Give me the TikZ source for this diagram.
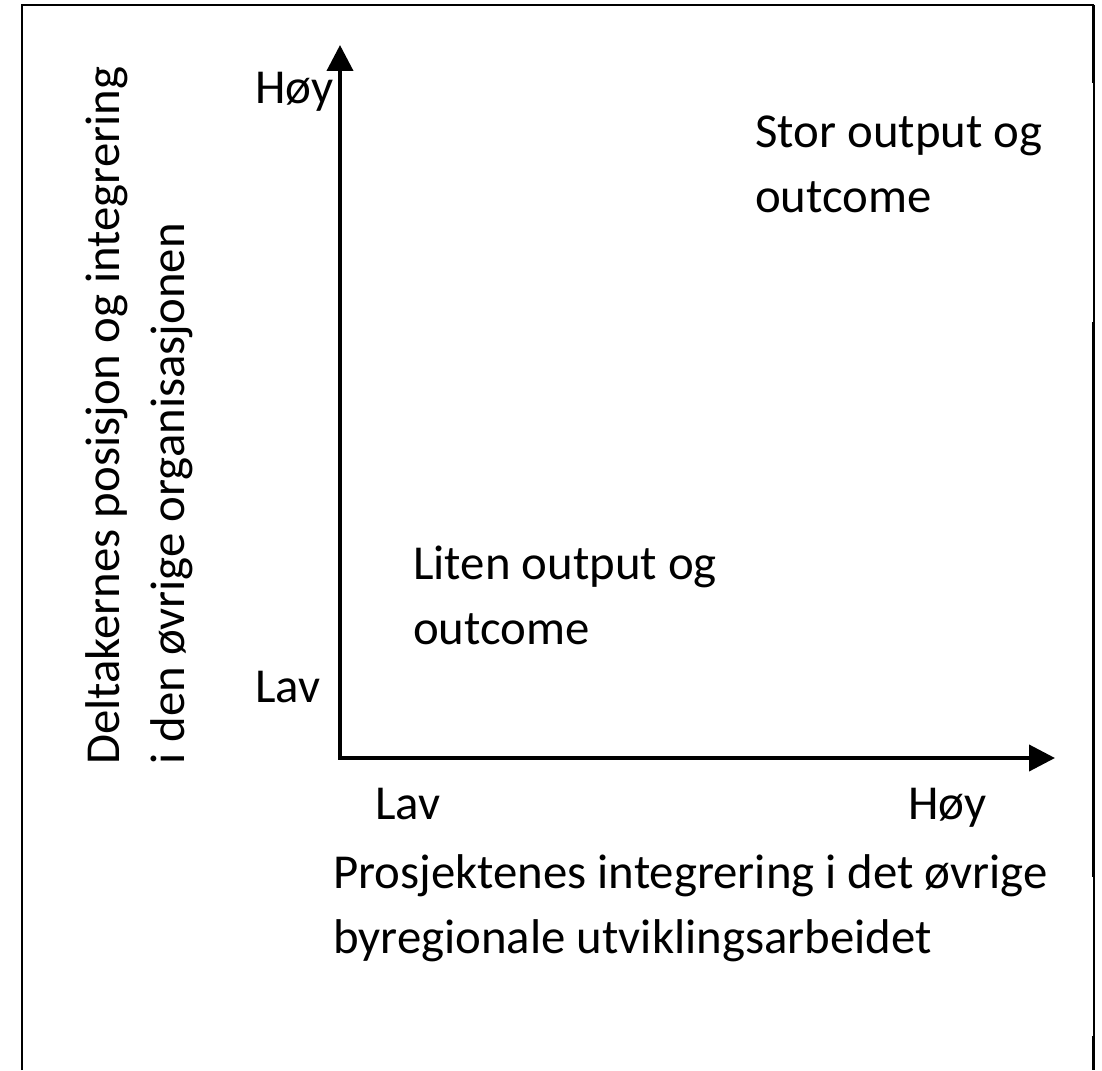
\documentclass[tikz,border=0pt]{standalone}
\usepackage{fontspec}
\setmainfont{Carlito}
\usetikzlibrary{arrows.meta}

\begin{document}
\begin{tikzpicture}[x=0.75pt,y=0.75pt,yscale=-1,xscale=1]
\tikzset{
  axis/.style={line width=3pt, line join=miter, {Triangle[length=19.5pt,width=19.5pt]}-{Triangle[length=19.5pt,width=19.5pt]}},
  lbl/.style={anchor=base west, inner sep=0pt, align=left, font=\fontsize{36.6}{48.5}\selectfont},
}
\useasboundingbox (0,0) rectangle (1102,1070);
%Frame
\draw [line width=1.9pt] (22,1070) -- (22,5.5);
\draw [line width=1pt] (21.4,5) -- (1094,5);
\draw [line width=0.8pt] (1094,5) -- (1094,1070);
\foreach \ya/\yb in {5/83, 322/877, 1036/1070}
  \draw [line width=2.8pt] (1093.5,\ya) -- (1093.5,\yb);

%Axes
\coordinate (origin) at (340,758);
\coordinate (ytip) at (340,45);
\coordinate (xtip) at (1055,758);
\draw [axis] (ytip) -- (origin) -- (xtip);

% Text Node
\node [lbl] (yhigh) at (255,104) {Høy};
\node [lbl] (ylow) at (255,702) {Lav};
\node [lbl] (xlow) at (375,819) {Lav};
\node [lbl] (xhigh) at (908,819) {Høy};
% Text Node (base = last line)
\node [lbl] (small) at (413,644) {Liten output og\\outcome};
\node [lbl] (large) at (755,212) {Stor output og\\outcome};
% Text Node
\node [lbl] (xtitle) at (333,953) {Prosjektenes integrering i det øvrige\\byregionale utviklingsarbeidet};
\node [lbl, rotate=90] (ytitle) at (184,765) {Deltakernes posisjon og integrering\\i den øvrige organisasjonen};
\end{tikzpicture}
\end{document}
